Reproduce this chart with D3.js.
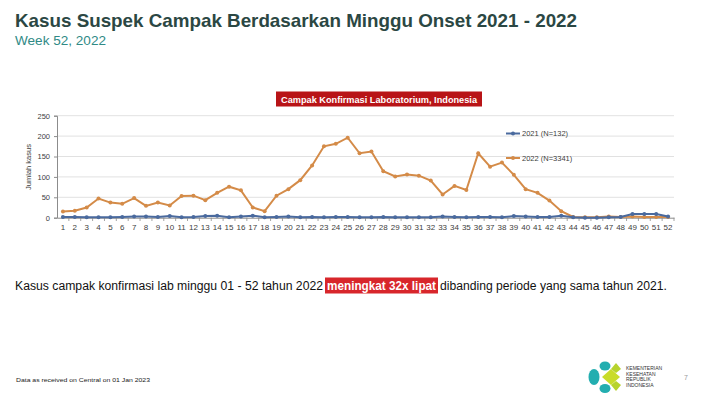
<!DOCTYPE html>
<html><head><meta charset="utf-8">
<script src="https://cdn.jsdelivr.net/npm/d3@7"></script>
<style>
body{margin:0;background:#fff;}
svg{display:block;font-family:"Liberation Sans",Arial,sans-serif;}
</style></head>
<body>
<svg id="c" width="707" height="395"></svg>
<script>
const weeks = d3.range(1, 53).map(String);
const cases2021 = [2,2,1,1,1,2,3,3,2,4, 1,2,4,5,1,3,5,1,2,3, 1,2,1,2,2,1,1,2,1,1, 1,1,3,2,1,2,2,1,4,3, 2,2,5,1,0,0,1,2,9,9,9,3];
const cases2022 = [15,17,25,47,37,34,48,29,37,30, 53,54,43,61,76,67,25,16,54,70, 92,128,175,181,196,158,162,114,101,106, 103,91,57,78,68,158,125,135,105,70, 61,42,16,2,1,1,3,2,3,2,2,2];
const yTicks = [0,50,100,150,200,250];
const seriesNames = ["2021 (N=132)", "2022 (N=3341)"];
const colors = ["#4a6a9e", "#d48b48"];

const svg = d3.select("#c");

// Titles
svg.append("text").attr("x",15).attr("y",27).attr("font-size",19).attr("font-weight","bold")
  .attr("fill","#2b4743").attr("textLength",562).attr("lengthAdjust","spacingAndGlyphs")
  .text("Kasus Suspek Campak Berdasarkan Minggu Onset 2021 - 2022");
svg.append("text").attr("x",15).attr("y",45).attr("font-size",13)
  .attr("fill","#2f8a86").attr("textLength",91).attr("lengthAdjust","spacingAndGlyphs")
  .text("Week 52, 2022");

// Chart
const x = d3.scaleBand().domain(weeks).range([57, 674]);
const y = d3.scaleLinear().domain([0,250]).range([217.7, 115.7]);

const g = svg.append("g");
g.selectAll("line.grid").data(yTicks.slice(1)).join("line")
  .attr("x1",57).attr("x2",674).attr("y1",d=>y(d)).attr("y2",d=>y(d))
  .attr("stroke","#d9d9d9").attr("stroke-width",0.8);

const yAxis = g.append("g").attr("transform","translate(57,0)")
  .call(d3.axisLeft(y).tickValues(yTicks).tickSize(3).tickPadding(4));
yAxis.select(".domain").attr("stroke","#8c8c8c");
yAxis.selectAll(".tick line").attr("stroke","#8c8c8c");
yAxis.selectAll("text").attr("font-size",7.5).attr("fill","#404040");

const xAxis = g.append("g").attr("transform","translate(0,217.7)")
  .call(d3.axisBottom(x).tickSize(0).tickPadding(7));
xAxis.select(".domain").attr("stroke","#8c8c8c");
xAxis.selectAll("text").attr("font-size",8).attr("fill","#404040");
g.selectAll("line.xt").data(weeks).join("line")
  .attr("x1",d=>x(d)+x.bandwidth()).attr("x2",d=>x(d)+x.bandwidth())
  .attr("y1",217.7).attr("y2",221).attr("stroke","#8c8c8c").attr("stroke-width",0.8);

svg.append("text").attr("transform","translate(31,167) rotate(-90)")
  .attr("text-anchor","middle").attr("font-size",7.5).attr("fill","#404040").text("Jumlah kasus");

const line = d3.line().x((d,i)=>x(weeks[i])+x.bandwidth()/2).y(d=>y(d));
[cases2022, cases2021].forEach((data)=>{
  const k = data === cases2021 ? 0 : 1;
  g.append("path").datum(data).attr("d",line).attr("fill","none")
    .attr("stroke",colors[k]).attr("stroke-width",2);
  g.selectAll("circle.s"+k).data(data).join("circle").attr("class","s"+k)
    .attr("cx",(d,i)=>x(weeks[i])+x.bandwidth()/2).attr("cy",d=>y(d)).attr("r",2)
    .attr("fill",colors[k]);
});

// Legend
const legY = [133.5, 158];
seriesNames.forEach((n,k)=>{
  svg.append("line").attr("x1",506).attr("x2",520).attr("y1",legY[k]).attr("y2",legY[k])
    .attr("stroke",colors[k]).attr("stroke-width",2);
  svg.append("circle").attr("cx",513).attr("cy",legY[k]).attr("r",2).attr("fill",colors[k]);
  svg.append("text").attr("x",522).attr("y",legY[k]+2.8).attr("font-size",7.5).attr("fill","#404040").text(n);
});

// Chart banner
svg.append("rect").attr("x",276).attr("y",91.5).attr("width",206).attr("height",15).attr("fill","#b81417");
svg.append("text").attr("x",379).attr("y",102.5).attr("text-anchor","middle").attr("font-size",9)
  .attr("font-weight","bold").attr("fill","#fff").attr("textLength",196).attr("lengthAdjust","spacingAndGlyphs")
  .text("Campak Konfirmasi Laboratorium, Indonesia");

// Body text
svg.append("rect").attr("x",325).attr("y",277.5).attr("width",113).attr("height",16).attr("fill","#d8262b");
svg.append("text").attr("x",15).attr("y",290).attr("font-size",12.5).attr("fill","#111")
  .attr("textLength",308).attr("lengthAdjust","spacingAndGlyphs")
  .text("Kasus campak konfirmasi lab minggu 01 - 52 tahun 2022");
svg.append("text").attr("x",327).attr("y",290).attr("font-size",12.5).attr("fill","#fff").attr("font-weight","bold")
  .attr("textLength",109).attr("lengthAdjust","spacingAndGlyphs").text("meningkat 32x lipat");
svg.append("text").attr("x",440).attr("y",290).attr("font-size",12.5).attr("fill","#111")
  .attr("textLength",227).attr("lengthAdjust","spacingAndGlyphs")
  .text("dibanding periode yang sama tahun 2021.");

// Footer
svg.append("text").attr("x",16).attr("y",382).attr("font-size",6).attr("fill","#222")
  .attr("textLength",134).attr("lengthAdjust","spacingAndGlyphs").text("Data as received on Central on 01 Jan 2023");
// Logo
const lg = svg.append("g");
lg.append("ellipse").attr("cx",594).attr("cy",377).attr("rx",5.5).attr("ry",8).attr("fill","#23aeb0");
lg.append("ellipse").attr("cx",605).attr("cy",366).attr("rx",5.5).attr("ry",4.5).attr("fill","#23aeb0");
lg.append("ellipse").attr("cx",605).attr("cy",388.5).attr("rx",5.5).attr("ry",4.5).attr("fill","#23aeb0");
lg.append("path").attr("d","M602,377 L611,369 L620,377 L611,385 Z").attr("fill","#c9dc2a");
lg.append("path").attr("d","M611,369 L616,363 L621,369 L616,373 Z").attr("fill","#b7d32d");
lg.append("path").attr("d","M611,385 L616,381 L621,385 L616,391 Z").attr("fill","#b7d32d");
["KEMENTERIAN","KESEHATAN","REPUBLIK","INDONESIA"].forEach((t,i)=>{
  lg.append("text").attr("x",626).attr("y",370+i*5.5).attr("font-size",5).attr("fill","#333").text(t);
});
svg.append("text").attr("x",684).attr("y",380).attr("font-size",7).attr("fill","#999").text("7");
</script>
</body></html>
